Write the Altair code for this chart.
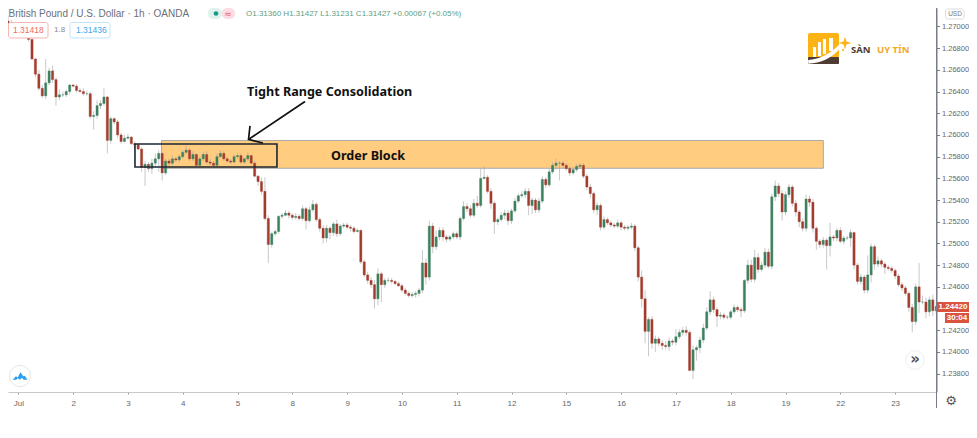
import altair as alt
import pandas as pd

# Hourly-chart candles, closes in units of 0.0001, one row per trading day
closes = [12703,12700,12698,
 12695,12692,12690,12688,12670,12656,12643,12636,12648,12659,12651,12635,12637,12637,12640,12646,
 12645,12641,12640,12638,12638,12617,12618,12627,12629,12635,12595,12615,12612,12600,12594,12597,
 12598,12592,12591,12587,12570,12573,12569,12574,12578,12583,12565,12576,12574,12578,12577,12580,
 12584,12586,12578,12582,12572,12578,12582,12575,12574,12572,12580,12583,12578,12576,12575,12580,
 12581,12575,12578,12581,12574,12562,12557,12548,12523,12499,12509,12511,12525,12526,12528,12526,
 12524,12525,12523,12532,12521,12531,12536,12522,12514,12505,12514,12510,12518,12509,12516,12517,
 12515,12514,12511,12512,12483,12471,12466,12462,12449,12472,12462,12466,12466,12465,12463,12461,
 12457,12454,12452,12453,12454,12457,12482,12469,12516,12497,12506,12512,12506,12504,12506,12509,
 12506,12523,12534,12532,12526,12537,12535,12560,12561,12548,12537,12520,12522,12526,12528,12521,
 12530,12539,12544,12545,12548,12535,12540,12531,12539,12559,12554,12566,12572,12574,12574,12572,
 12569,12565,12568,12571,12572,12562,12552,12546,12531,12535,12515,12522,12519,12517,12516,12519,
 12515,12514,12515,12516,12496,12469,12449,12419,12430,12408,12412,12408,12406,12405,12410,12409,
 12414,12418,12420,12418,12383,12402,12404,12411,12422,12437,12448,12439,12433,12434,12432,12432,
 12437,12441,12439,12438,12466,12480,12467,12487,12476,12480,12492,12479,12543,12553,12546,12529,
 12545,12552,12537,12529,12520,12514,12541,12538,12514,12502,12499,12503,12498,12506,12505,12512,
 12502,12505,12505,12510,12480,12465,12469,12457,12471,12497,12481,12484,12481,12478,12477,12475,
 12470,12462,12459,12454,12441,12428,12460,12446,12446,12437,12448,12438,12442]
upper_wicks = [5,3,2,
 2,1,2,2,3,1,4,3,22,3,5,2,5,3,2,1,
 1,2,2,3,3,2,4,5,3,8,1,2,1,2,2,3,
 3,1,2,1,2,3,2,4,5,3,1,2,2,3,2,2,
 2,4,2,3,1,2,2,3,3,2,3,3,2,2,2,2,
 2,2,1,3,1,2,1,4,13,3,2,2,1,2,3,2,
 2,3,2,3,2,3,4,2,2,3,3,2,2,4,2,2,
 2,2,2,2,1,2,3,3,4,5,2,2,3,2,1,2,
 2,2,2,2,2,2,12,4,5,3,6,3,3,2,2,2,
 2,2,5,3,3,4,7,9,10,2,3,2,2,3,3,3,
 2,3,2,3,3,3,2,2,3,3,2,3,3,4,2,2,
 2,2,2,2,2,2,2,3,2,3,2,3,2,2,2,3,
 2,2,2,3,2,2,6,8,2,3,3,2,3,4,3,2,
 7,3,3,4,2,4,2,3,4,4,8,3,2,3,2,2,
 2,3,2,2,1,5,5,7,4,3,4,3,3,5,3,3,
 3,3,2,3,2,3,4,3,3,2,2,3,2,13,2,2,
 3,2,2,3,1,2,3,2,18,3,2,4,2,2,2,2,
 2,2,2,2,2,3,3,22,6,4,3,5,5]
lower_wicks = [2,3,2,
 2,1,1,2,1,3,2,2,3,2,3,8,3,2,2,3,
 1,2,1,2,2,2,12,3,3,2,12,3,2,3,2,1,
 1,1,3,1,4,17,3,5,4,12,7,2,3,2,2,2,
 2,2,2,2,2,2,2,2,2,2,2,1,2,2,2,1,
 2,2,2,2,1,1,4,3,2,17,3,2,2,2,1,3,
 2,2,2,2,8,2,2,2,3,5,4,6,3,3,2,2,
 2,3,2,1,2,2,3,3,9,6,16,3,2,2,1,1,
 2,2,2,2,3,3,3,7,3,6,3,3,4,3,2,2,
 2,3,2,3,2,2,2,2,1,2,5,11,3,2,4,4,
 3,2,2,2,3,9,8,3,3,2,3,2,2,4,16,2,
 2,3,2,2,2,2,3,4,3,5,3,2,2,2,2,2,
 3,2,2,2,3,4,8,11,23,5,8,3,4,3,4,3,
 3,2,3,3,1,8,10,5,3,2,3,3,10,3,2,2,
 2,2,2,6,2,3,3,3,3,2,3,2,3,4,3,8,
 3,3,3,4,5,3,3,4,4,8,3,3,22,10,3,3,
 2,3,2,8,4,3,3,3,3,7,5,3,3,6,2,2,
 3,2,3,2,4,10,3,10,2,6,4,5,3]
first_open = 12705
day_labels = ["Jul","2","3","4","5","8","9","10","11","12","15","16","17","18","19","22","23"]
price_ticks = [1.238,1.24,1.242,1.246,1.248,1.25,1.252,1.254,1.256,1.258,1.26,1.262,1.264,1.266,1.268,1.27]

# zones, in (trading day, price)
block_x, block_y = (2.613, 14.69), (1.25949, 1.25693)
tight_x, tight_y = (2.129, 4.72), (1.25917, 1.25705)
arrow_seg = [0,0,1,1,1]
arrow_x = [5.232,4.201,4.228,4.201,4.465]
arrow_y = [1.26309,1.25959,1.26083,1.25959,1.25926]

X_DOM = [-0.188, 16.755]
Y_DOM = [1.23631, 1.27170]
W, H = 928.5, 384

opens = [first_open] + closes[:-1]
df = pd.DataFrame({"k": range(-3, len(closes) - 3), "o": opens, "c": closes,
                   "uw": upper_wicks, "lw": lower_wicks})
df["t"] = df.k / 16
df["top"] = df[["o", "c"]].max(axis=1) / 1e4
df["bot"] = df[["o", "c"]].min(axis=1) / 1e4
df["high"] = df.top + df.uw / 1e4
df["low"] = df.bot - df.lw / 1e4
df["dir"] = ["up" if c >= o else "down" for o, c in zip(df.o, df.c)]

xs = alt.Scale(domain=X_DOM, nice=False, zero=False, padding=0)
ys = alt.Scale(domain=Y_DOM, nice=False, zero=False, padding=0)
dirs = alt.Scale(domain=["up", "down"], range=["#3d8060", "#a23c2e"])
TXT = "Liberation Sans"
label_js = "[" + ",".join(f"'{d}'" for d in day_labels) + "][datum.value]"

x_axis = alt.Axis(values=list(range(len(day_labels))), labelExpr=label_js, title=None, grid=False,
                  domainColor="#c8c8c8", tickColor="#999999", tickSize=2, labelColor="#666666", labelFontSize=8,
                  labelFont=TXT, labelPadding=5, labelOverlap=False)
y_axis = alt.Axis(orient="right", values=price_ticks, format=".5f", title=None, grid=False,
                  domainColor="#787b86", tickColor="#787b86", tickSize=3, labelColor="#666666", labelFontSize=7.5,
                  labelFont=TXT, labelPadding=2, labelOverlap=False)

one = pd.DataFrame({"a": [0]})
def px(v): return alt.value(v - 8)

def rect(x1, y1, x2, y2, **kw):
    return alt.Chart(one).mark_rect(**kw).encode(x=px(x1), x2=px(x2), y=px(y1), y2=px(y2))

def text(s, x, y, **kw):
    kw.setdefault("align", "left"); kw.setdefault("baseline", "middle"); kw.setdefault("font", TXT)
    return alt.Chart(one).mark_text(text=s, **kw).encode(x=px(x), y=px(y))

def symbol(shape, x, y, size, **kw):
    return alt.Chart(one).mark_point(shape=shape, size=size, opacity=1, **kw).encode(x=px(x), y=px(y))

zone = alt.Chart(pd.DataFrame({"x": [block_x[0]], "x2": [block_x[1]], "y": [block_y[0]], "y2": [block_y[1]]})).mark_rect(
    fill="#FFCC80", stroke="#a9a9a9", strokeWidth=1
).encode(
    x=alt.X("x:Q", scale=xs, axis=x_axis), x2="x2:Q",
    y=alt.Y("y:Q", scale=ys, axis=y_axis), y2="y2:Q",
)

wicks = alt.Chart(df).mark_rule(strokeWidth=1, color="#9c9c9c", opacity=0.55).encode(
    x=alt.X("t:Q", scale=xs, axis=x_axis), y=alt.Y("high:Q", scale=ys, axis=y_axis), y2="low:Q")
bodies = alt.Chart(df).mark_bar(size=2.2, strokeWidth=0.4).encode(
    x=alt.X("t:Q", scale=xs, axis=x_axis), y=alt.Y("top:Q", scale=ys, axis=y_axis), y2="bot:Q",
    color=alt.Color("dir:N", scale=dirs, legend=None),
    stroke=alt.Stroke("dir:N", scale=dirs, legend=None))

tight = alt.Chart(pd.DataFrame({"x": [tight_x[0]], "x2": [tight_x[1]], "y": [tight_y[0]], "y2": [tight_y[1]]})).mark_rect(
    fillOpacity=0, stroke="#1c2733", strokeWidth=1.6).encode(
    x=alt.X("x:Q", scale=xs, axis=x_axis), x2="x2:Q", y=alt.Y("y:Q", scale=ys, axis=y_axis), y2="y2:Q")
arrow = alt.Chart(pd.DataFrame({"s": arrow_seg, "x": arrow_x, "y": arrow_y, "o": range(5)})).mark_line(
    color="#111111", strokeWidth=1.7).encode(
    x=alt.X("x:Q", scale=xs, axis=x_axis), y=alt.Y("y:Q", scale=ys, axis=y_axis), detail="s:N", order="o:Q")

LOGO_OR = "#fdb316"
chrome = [
    # right rail line
    alt.Chart(one).mark_rule(color="#787b86", strokeWidth=1).encode(x=px(936.5), y=alt.value(0), y2=px(408)),
    # header
    text("British Pound / U.S. Dollar · 1h · OANDA", 8.5, 14, fontSize=10, color="#6b6f7a"),
    rect(208, 8, 222, 19, fill="#dff2ee", cornerRadius=5),
    rect(222, 8, 235, 19, fill="#fbdde3", cornerRadius=5),
    alt.Chart(one).mark_circle(size=22, color="#159a8a", opacity=1).encode(x=px(216), y=px(13.5)),
    text("≈", 228, 13.5, fontSize=9, color="#ef5a78", align="center", font="DejaVu Sans"),
    text("O1.31360  H1.31427  L1.31231  C1.31427  +0.00067 (+0.05%)", 246, 14, fontSize=8, color="#5d9e82"),
    rect(8.5, 22.5, 48, 38, fill="#ffffff", stroke="#f5b5b0", cornerRadius=2),
    text("1.31418", 13, 30, fontSize=8.5, color="#ef6a60"),
    text("1.8", 54, 30, fontSize=8, color="#888888"),
    rect(70, 22.5, 110, 38, fill="#ffffff", stroke="#bfe3fa", cornerRadius=2),
    text("1.31436", 76, 30, fontSize=8.5, color="#3ea6ea"),
    # annotations
    text("Tight Range Consolidation", 247, 92, fontSize=12.6, fontWeight="bold", font="Noto Sans", color="#111111"),
    text("Order Block", 331, 156, fontSize=12.6, fontWeight="bold", font="Noto Sans", color="#111111"),
    # logo
    rect(808, 33, 839, 58, fill=LOGO_OR, cornerRadius=2),
    rect(813, 47, 816, 57, fill="#ffffff"),
    rect(818, 42, 821, 56, fill="#ffffff"),
    rect(823, 39, 826, 54, fill="#ffffff"),
    rect(829, 38, 833, 51, fill="#ffffff"),
    rect(808, 57, 839, 64, fill="#4e3b31", cornerRadius=1),
    symbol("M-1,0.5 Q0.1,0.45 1,-0.5 L1,-0.2 Q0.2,0.7 -1,0.75 Z", 824, 52, 1000, fill="#ffffff", filled=True, stroke="#ffffff", strokeWidth=0),
    symbol("M0,-1 L0.22,-0.22 L1,0 L0.22,0.22 L0,1 L-0.22,0.22 L-1,0 L-0.22,-0.22 Z", 845, 43, 170, fill=LOGO_OR, filled=True, strokeWidth=0),
    alt.Chart(one).mark_circle(size=5, color=LOGO_OR, opacity=1).encode(x=px(843), y=px(50)),
    text("SÀN", 851, 50, fontSize=9.5, fontWeight="bold", font="Noto Sans", color="#4e3b31"),
    text("UY TÍN", 877, 50, fontSize=9.5, fontWeight="bold", font="Noto Sans", color="#f3a92a"),
    # USD tag
    rect(945.5, 9, 964, 19, fill="#ffffff", stroke="#dddddd", cornerRadius=2),
    text("USD", 955, 14, fontSize=6.5, color="#777777", align="center"),
    # price tags
    rect(937, 302, 969, 312, fill="#d9533f"),
    text("1.24420", 953, 307, fontSize=8, color="#ffffff", align="center", fontWeight="bold"),
    rect(945, 313, 969, 323, fill="#d9533f"),
    text("30:04", 957, 318, fontSize=8, color="#ffffff", align="center", fontWeight="bold"),
    # bottom left badge and scroll button, settings
    alt.Chart(one).mark_circle(size=450, color="#ffffff", stroke="#e6e6e6", strokeWidth=1, opacity=1).encode(x=px(20), y=px(376)),
    symbol("M-1,0.5 L-0.55,0.05 L-0.3,0.2 L0.05,-0.5 L0.45,0.05 L0.65,-0.05 L1,0.5 L0.5,0.5 L0.25,0.25 L0,0.5 L-0.3,0.3 L-0.5,0.5 Z", 20, 376, 220, fill="#2e9ff0", filled=True, strokeWidth=0),
    alt.Chart(one).mark_circle(size=340, color="#ffffff", stroke="#eeeeee", strokeWidth=1, opacity=1).encode(x=px(915), y=px(360)),
    text("»", 915, 359, fontSize=15, color="#50535e", align="center", fontWeight="bold", font="DejaVu Sans"),
    text("⚙", 951, 401, fontSize=13, color="#555555", align="center", font="DejaVu Sans"),
]

chart = alt.layer(zone, wicks, bodies, tight, arrow, *chrome).properties(
    width=W, height=H,
    padding={"left": 0, "top": 0, "right": 32.5, "bottom": 22},
    autosize=alt.AutoSizeParams(type="none"),
    background="#ffffff",
).configure_view(stroke=None)

chart.save("out.html", embed_options={"renderer": "svg", "actions": False})
